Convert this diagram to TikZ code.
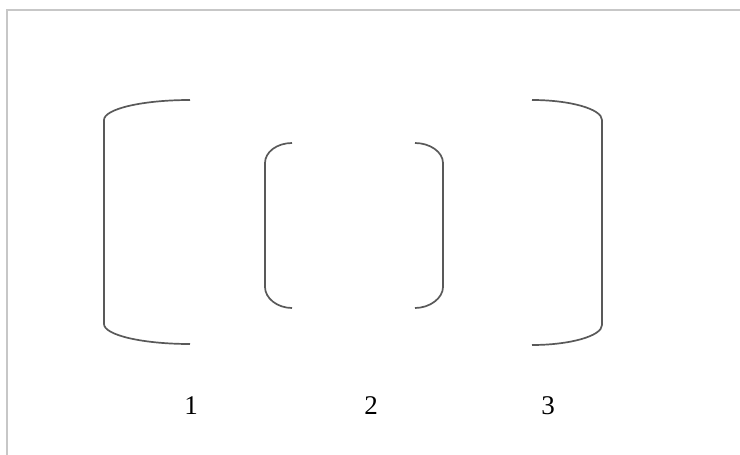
\documentclass[tikz,border=0pt]{standalone}
\usepackage{fontspec}
\setmainfont{Liberation Serif}
\usetikzlibrary{positioning}

\begin{document}
\begin{tikzpicture}[
  x=1pt, y=-1pt,
  bracketLine/.style={draw=black!65, line width=1.7pt},
  frameLine/.style={draw=black!22, line width=1.8pt},
  digitLabel/.style={anchor=base, inner sep=0pt, font=\fontsize{27}{31}\selectfont}
]
  \useasboundingbox (0,0) rectangle (740,455);
  % outer frame, top and left only
  \draw[frameLine] (7,455) -- (7,10) -- (740,10);

  % big left bracket
  \draw[bracketLine] (190,100) .. controls (142,100) and (104,109) .. (104,120)
    -- (104,324) .. controls (104,335) and (142,344) .. (190,344);
  % small pair in the middle
  \draw[bracketLine] (292,143) .. controls (277,143) and (265,152) .. (265,163)
    -- (265,287) .. controls (265,298) and (277,308) .. (292,308);
  \draw[bracketLine] (415,143) .. controls (430,143) and (443,152) .. (443,163)
    -- (443,287) .. controls (443,298) and (430,308) .. (415,308);
  % big right bracket
  \draw[bracketLine] (532,100) .. controls (570,100) and (602,109) .. (602,120)
    -- (602,325) .. controls (602,336) and (570,345) .. (532,345);

  \node[digitLabel] (lblOne) at (191,414) {1};
  \node[digitLabel] (lblTwo) at (371,414) {2};
  \node[digitLabel] (lblThree) at (548,414) {3};
\end{tikzpicture}
\end{document}
